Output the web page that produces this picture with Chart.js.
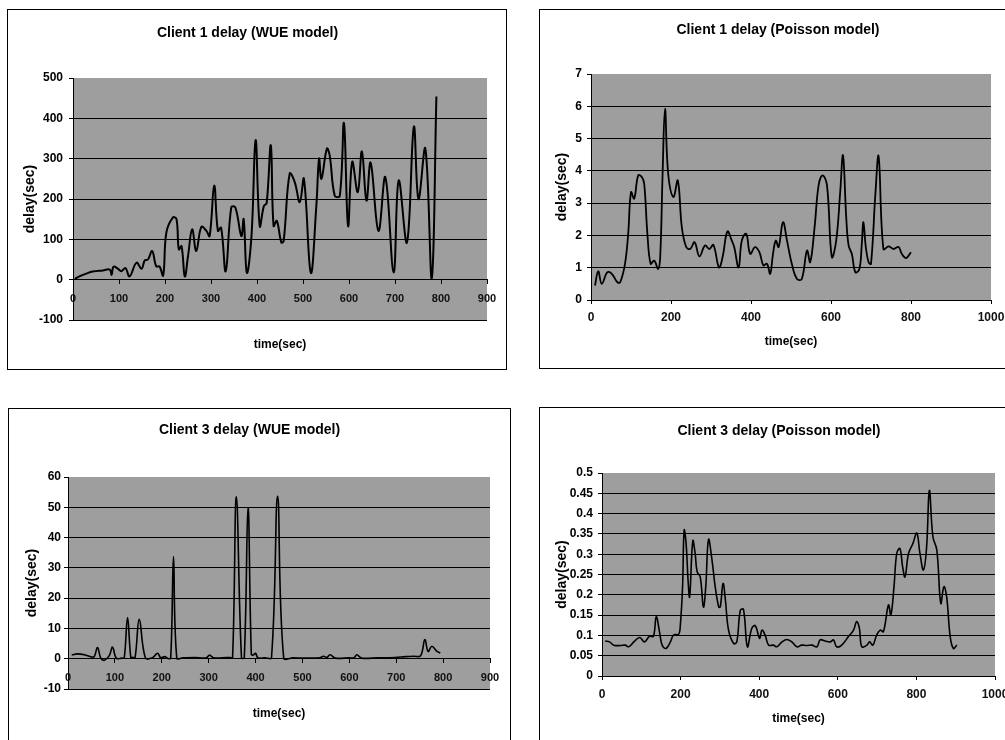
<!DOCTYPE html>
<html>
<head>
<meta charset="utf-8">
<title>Client delay</title>
<script src="https://cdn.jsdelivr.net/npm/chart.js@4.4.1/dist/chart.umd.min.js"></script>
<style>
  html, body { margin: 0; padding: 0; background: #fff; width: 1005px; height: 740px; overflow: hidden; }
  .panel { position: absolute; border: 1px solid #000; box-sizing: border-box; background: #fff; overflow: hidden; }
  .panel canvas { display: block; }
</style>
</head>
<body>
<div class="panel" style="left:7px;top:9px;width:500px;height:361px"><canvas id="c1" width="498" height="359"></canvas></div>
<div class="panel" style="left:539px;top:9px;width:500px;height:360px"><canvas id="c2" width="476" height="358"></canvas></div>
<div class="panel" style="left:8px;top:408px;width:503px;height:345px"><canvas id="c3" width="501" height="343"></canvas></div>
<div class="panel" style="left:539px;top:407px;width:500px;height:345px"><canvas id="c4" width="478" height="343"></canvas></div>

<script>
// ---- Client 1, WUE model ----
const c1WueTime = [4,14,29,43,65,80,84,88,98,105,114,123,138,149,156,163,172,181,188,196,
  203,217,225,230,236,243,250,259,268,279,290,297,307,315,322,332,344,353,366,371,
  378,388,397,406,415,421,430,436,443,453,458,471,482,493,502,517,529,535,540,552,
  558,569,580,589,598,607,619,628,638,647,664,679,697,708,726,741,751,766,780,790];
const c1WueDelay = [2,8,15,20,23,25,12,32,27,21,29,8,42,27,48,50,71,33,33,10,
  117,154,150,75,83,8,58,125,71,131,121,108,233,121,129,21,179,179,108,150,
  17,108,346,133,183,190,333,133,146,92,96,263,242,192,250,17,183,300,250,325,
  308,208,208,388,133,292,217,318,196,290,121,254,18,246,92,379,200,325,4,454];
const c1WueXTicks = [0,100,200,300,400,500,600,700,800,900];
const c1WueYTicks = [-100,0,100,200,300,400,500];

// ---- Client 1, Poisson model ----
const c1PoisTime = [10,18,27,41,52,66,73,85,93,100,108,118,127,133,141,149,158,168,173,179,
  185,193,206,217,227,238,248,259,271,285,296,306,320,329,341,352,358,369,377,388,
  398,410,421,431,440,448,455,462,469,480,490,502,515,527,540,548,559,569,579,590,
  602,613,623,630,638,644,652,661,671,677,681,687,694,700,711,719,731,744,756,769,
  777,788,800];
const c1PoisDelay = [0.45,0.89,0.5,0.86,0.81,0.55,0.55,1.12,2.05,3.34,3.14,3.86,3.81,3.6,2.05,1.12,1.22,0.96,1.33,3.9,
  5.93,3.91,3.19,3.7,2.26,1.64,1.58,1.79,1.35,1.69,1.58,1.71,1.01,1.33,2.12,1.84,1.64,1.01,1.84,2.05,
  1.43,1.64,1.48,1.07,1.12,0.81,1.43,1.84,1.64,2.41,1.84,1.12,0.65,0.65,1.53,1.17,2.26,3.55,3.86,3.55,
  1.33,1.84,3.34,4.48,2.57,1.69,1.43,0.86,0.96,1.74,2.41,1.64,1.17,1.12,3.29,4.45,1.58,1.66,1.58,1.64,
  1.43,1.3,1.48];
const c1PoisXTicks = [0,200,400,600,800,1000];
const c1PoisYTicks = [0,1,2,3,4,5,6,7];

// ---- Client 3, WUE model ----
const c3WueTime = [8,20,35,50,56,63,70,78,88,95,103,115,120,127,134,138,143,152,165,180,
  191,198,206,213,219,225,232,245,270,295,302,310,330,345,351,359,370,376,384,391,
  395,400,405,420,434,447,460,480,510,537,545,552,559,570,600,610,616,626,660,697,
  720,737,752,761,768,776,787,794];
const c3WueDelay = [1.2,1.6,1.3,0.6,0.7,3.7,0.2,-0.5,1.0,3.8,0.2,0.2,0.3,13.6,0.3,0.5,0.3,13,0.3,0.3,
  1.8,0.3,0.7,0.1,0.2,33.7,0.2,0.3,0.4,0.3,1.2,0.3,0.3,0.4,0.4,53.5,0.3,0.4,49.7,1.5,
  1.2,1.8,0.3,0.3,0.4,53.7,0.3,0.3,0.2,0.3,0.8,0.4,1.3,0.2,0.3,0.3,1.3,0.2,0.3,0.4,
  0.7,0.8,1.0,6.3,2.4,4.1,2.4,1.9];
const c3WueXTicks = [0,100,200,300,400,500,600,700,800,900];
const c3WueYTicks = [-10,0,10,20,30,40,50,60];

// ---- Client 3, Poisson model ----
const c3PoisTime = [8,19,30,47,59,68,81,96,108,121,131,138,147,153,163,174,182,195,199,205,
  209,214,219,223,231,237,242,250,258,264,271,280,288,297,301,308,314,322,335,343,
  352,360,370,381,390,401,407,415,424,436,445,458,470,483,496,508,521,534,547,555,
  568,581,589,597,610,627,640,648,655,661,674,681,689,699,708,716,729,735,743,750,
  758,765,771,780,791,801,809,818,826,833,842,852,862,870,877,886,894,903];
const c3PoisDelay = [0.086,0.084,0.076,0.075,0.076,0.072,0.084,0.095,0.084,0.098,0.098,0.146,0.105,0.076,0.068,0.084,0.101,0.103,0.121,0.22,
  0.359,0.326,0.236,0.195,0.333,0.302,0.257,0.244,0.17,0.22,0.336,0.285,0.22,0.17,0.17,0.228,0.187,0.113,0.08,0.084,
  0.162,0.164,0.072,0.117,0.124,0.093,0.113,0.101,0.076,0.076,0.072,0.084,0.09,0.084,0.072,0.076,0.075,0.076,0.072,0.089,
  0.086,0.084,0.089,0.072,0.076,0.097,0.113,0.134,0.117,0.072,0.076,0.084,0.076,0.101,0.113,0.109,0.175,0.15,0.22,0.302,
  0.314,0.269,0.244,0.302,0.326,0.352,0.302,0.261,0.318,0.457,0.343,0.31,0.179,0.22,0.195,0.097,0.068,0.076];
const c3PoisXTicks = [0,200,400,600,800,1000];
const c3PoisYTicks = [0,0.05,0.1,0.15,0.2,0.25,0.3,0.35,0.4,0.45,0.5];

// ---------------------------------------------------------------
const FONT = "'Liberation Sans', Arial, Helvetica, sans-serif";

// grey plot-area fill behind grid and series
const plotFill = {
  id: 'plotFill',
  beforeDraw(chart, args, opts) {
    const a = chart.chartArea;
    const ctx = chart.ctx;
    ctx.save();
    ctx.fillStyle = opts.color || '#9e9e9e';
    ctx.fillRect(a.left, a.top, a.right - a.left, a.bottom - a.top);
    ctx.restore();
  }
};

function points(xs, ys) {
  return xs.map((x, i) => ({ x: x, y: ys[i] }));
}

function tickSetter(list) {
  return scale => { scale.ticks = list.map(v => ({ value: v })); };
}

function buildChart(id, p) {
  const yMax = p.yTicks[p.yTicks.length - 1];
  const xScale = {
    type: 'linear',
    min: p.xTicks[0],
    max: p.xTicks[p.xTicks.length - 1],
    afterBuildTicks: tickSetter(p.xTicks),
    ticks: {
      color: '#111',
      font: { family: FONT, size: p.xTickSize, weight: 'bold' },
      padding: p.xTickPad,
      maxRotation: 0,
      autoSkip: false,
      callback: v => String(v)
    },
    grid: { drawOnChartArea: false, drawTicks: true, tickLength: 4, color: '#000', tickColor: '#000' },
    border: { display: true, color: '#000', width: 1 }
  };
  if (p.crossAtZero) {
    xScale.position = { y: 0 };
  } else {
    xScale.position = 'bottom';
    xScale.afterFit = s => { s.height = p.xAxisHeight; };
  }

  const scales = {
    x: xScale,
    y: {
      type: 'linear',
      min: p.yTicks[0],
      max: yMax,
      afterBuildTicks: tickSetter(p.yTicks),
      afterFit: s => { s.width = p.yAxisWidth; },
      ticks: {
        color: '#000',
        font: { family: FONT, size: 12, weight: 'bold' },
        padding: p.yTickPad,
        autoSkip: false,
        callback: v => String(v)
      },
      grid: {
        color: c => (c.tick && c.tick.value === yMax) ? 'rgba(0,0,0,0)' : '#000',
        tickColor: '#000',
        lineWidth: 1,
        drawTicks: true,
        tickLength: 4
      },
      border: { display: true, color: '#000', width: 1 },
      title: {
        display: true,
        text: 'delay(sec)',
        color: '#000',
        font: { family: FONT, size: 14, weight: 'bold', lineHeight: 1.2 },
        padding: { top: p.yTitlePad, bottom: 0 }
      }
    }
  };
  // empty right-hand margin so the plot ends short of the panel edge
  if (p.rightGap) {
    scales.gap = {
      type: 'linear', position: 'right', min: 0, max: 1,
      ticks: { display: false }, grid: { display: false }, border: { display: false },
      afterFit: s => { s.width = p.rightGap; }
    };
  }

  return new Chart(document.getElementById(id), {
    type: 'line',
    data: {
      datasets: [{
        data: points(p.xs, p.ys),
        borderColor: '#000',
        borderWidth: p.lineWidth,
        pointRadius: 0,
        fill: false,
        tension: 0.4
      }]
    },
    options: {
      responsive: false,
      animation: false,
      events: [],
      layout: { padding: { left: 0, right: p.padRight, top: 0, bottom: 0 } },
      plugins: {
        legend: { display: false },
        tooltip: { enabled: false },
        plotFill: { color: '#9e9e9e' },
        title: {
          display: true,
          text: p.title,
          color: '#000',
          font: { family: FONT, size: 14, weight: 'bold', lineHeight: 1.2 },
          padding: { top: p.titlePad[0], bottom: p.titlePad[1] }
        },
        subtitle: {
          display: true,
          position: 'bottom',
          fullSize: false,
          text: 'time(sec)',
          color: '#000',
          font: { family: FONT, size: 12, weight: 'bold', lineHeight: 1.2 },
          padding: { top: p.xTitlePad[0], bottom: p.xTitlePad[1] }
        }
      },
      scales: scales
    },
    plugins: [plotFill]
  });
}

buildChart('c1', {
  title: 'Client 1 delay (WUE model)',
  xs: c1WueTime, ys: c1WueDelay, xTicks: c1WueXTicks, yTicks: c1WueYTicks,
  crossAtZero: true, xTickSize: 11, xTickPad: 9,
  lineWidth: 2, padRight: 19, yAxisWidth: 65, yTickPad: 6, yTitlePad: 13.4,
  titlePad: [14.6, 36.6], xTitlePad: [17.8, 16.8]
});

buildChart('c2', {
  title: 'Client 1 delay (Poisson model)',
  xs: c1PoisTime, ys: c1PoisDelay, xTicks: c1PoisXTicks, yTicks: c1PoisYTicks,
  crossAtZero: false, xAxisHeight: 28, xTickSize: 12, xTickPad: 6.8,
  lineWidth: 1.8, padRight: 0, rightGap: 25, yAxisWidth: 51, yTickPad: 5, yTitlePad: 13.4,
  titlePad: [11.6, 35.6], xTitlePad: [6.8, 18.8]
});

buildChart('c3', {
  title: 'Client 3 delay (WUE model)',
  xs: c3WueTime, ys: c3WueDelay, xTicks: c3WueXTicks, yTicks: c3WueYTicks,
  crossAtZero: true, xTickSize: 11, xTickPad: 9,
  lineWidth: 1.6, padRight: 20, yAxisWidth: 59, yTickPad: 3, yTitlePad: 14.4,
  titlePad: [12.6, 38.6], xTitlePad: [17.8, 30.8]
});

buildChart('c4', {
  title: 'Client 3 delay (Poisson model)',
  xs: c3PoisTime, ys: c3PoisDelay, xTicks: c3PoisXTicks, yTicks: c3PoisYTicks,
  crossAtZero: false, xAxisHeight: 30, xTickSize: 12, xTickPad: 7.8,
  lineWidth: 1.6, padRight: 0, rightGap: 23, yAxisWidth: 62, yTickPad: 5, yTitlePad: 13.4,
  titlePad: [14.6, 33.6], xTitlePad: [5.8, 24.8]
});
</script>
</body>
</html>
